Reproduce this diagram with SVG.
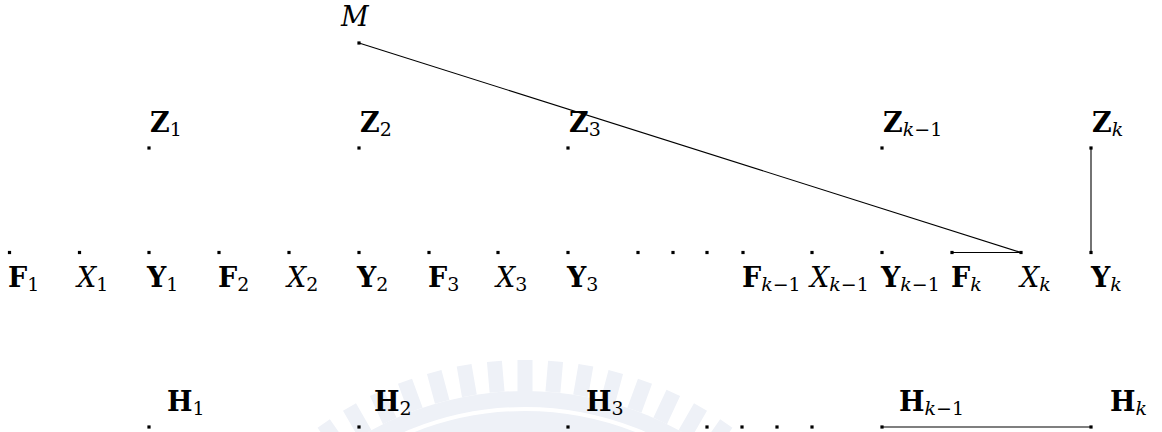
<svg xmlns="http://www.w3.org/2000/svg" width="1162" height="432" viewBox="0 0 1162 432">
<style>
.t{font-family:"DejaVu Serif","Liberation Serif",serif;font-size:27px;fill:#000}
.b{font-weight:bold}
.i{font-style:italic}
.s{font-size:19px;font-weight:normal;font-style:normal}
.si{font-size:19px;font-weight:normal;font-style:italic}
.ln{stroke:#000;stroke-width:1.1;fill:none}
.wm{fill:#eef1f7;stroke:none}
</style>
<defs>
<rect id="pt" x="-1.6" y="-1.6" width="3.2" height="3.2" fill="#000"/>
</defs>
<rect width="1162" height="432" fill="#fff"/>
<g id="watermark">
<circle class="wm" cx="525" cy="711" r="320"/>
<circle cx="525" cy="711" r="302" fill="none" stroke="#fff" stroke-width="4"/>
<path d="M525,392 L525,360 M497.1,392.2 L494.4,361.3 M552.9,392.2 L555.6,361.3 M469.4,395.9 L464.1,365.3 M580.6,395.9 L585.9,365.3 M442.2,401.9 L434.2,372 M607.8,401.9 L615.8,372 M415.6,410.3 L405,381.2 M634.4,410.3 L645,381.2 M389.8,421 L376.7,392.9 M660.2,421 L673.3,392.9 M365,433.9 L349.5,407 M685,433.9 L700.5,407 M341.4,448.9 L323.7,423.5 M708.6,448.9 L726.3,423.5" stroke="#eef1f7" stroke-width="15" fill="none"/>
</g>
<g id="connectors">
<line class="ln" x1="359" y1="43" x2="1021" y2="252.5"/>
<line class="ln" x1="952" y1="252.5" x2="1021" y2="252.5"/>
<line class="ln" x1="1091" y1="148" x2="1091" y2="252.5"/>
<line class="ln" x1="882" y1="427" x2="1091" y2="427"/>
</g>
<g id="M"><use href="#pt" x="359" y="43"/><text class="t i" x="341" y="26">M</text></g>
<g id="Z1"><use href="#pt" x="149" y="148"/><text class="t b" x="150" y="132">Z<tspan class="s" dy="4">1</tspan></text></g>
<g id="Z2"><use href="#pt" x="359" y="148"/><text class="t b" x="360" y="132">Z<tspan class="s" dy="4">2</tspan></text></g>
<g id="Z3"><use href="#pt" x="568" y="148"/><text class="t b" x="569" y="132">Z<tspan class="s" dy="4">3</tspan></text></g>
<g id="Zk-1"><use href="#pt" x="882" y="148"/><text class="t b" x="883" y="132">Z<tspan class="si" dy="4">k</tspan><tspan class="s">−1</tspan></text></g>
<g id="Zk"><use href="#pt" x="1091" y="148"/><text class="t b" x="1092" y="132">Z<tspan class="si" dy="4">k</tspan></text></g>
<g id="F1"><use href="#pt" x="9.5" y="252.5"/><text class="t b" x="8" y="287">F<tspan class="s" dy="4">1</tspan></text></g>
<g id="X1"><use href="#pt" x="79.5" y="252.5"/><text class="t i" x="77" y="287">X<tspan class="s" dy="4">1</tspan></text></g>
<g id="Y1"><use href="#pt" x="149" y="252.5"/><text class="t b" x="147" y="287">Y<tspan class="s" dy="4">1</tspan></text></g>
<g id="F2"><use href="#pt" x="219" y="252.5"/><text class="t b" x="218" y="287">F<tspan class="s" dy="4">2</tspan></text></g>
<g id="X2"><use href="#pt" x="289" y="252.5"/><text class="t i" x="287" y="287">X<tspan class="s" dy="4">2</tspan></text></g>
<g id="Y2"><use href="#pt" x="359" y="252.5"/><text class="t b" x="357" y="287">Y<tspan class="s" dy="4">2</tspan></text></g>
<g id="F3"><use href="#pt" x="429" y="252.5"/><text class="t b" x="428" y="287">F<tspan class="s" dy="4">3</tspan></text></g>
<g id="X3"><use href="#pt" x="498" y="252.5"/><text class="t i" x="496" y="287">X<tspan class="s" dy="4">3</tspan></text></g>
<g id="Y3"><use href="#pt" x="568" y="252.5"/><text class="t b" x="567" y="287">Y<tspan class="s" dy="4">3</tspan></text></g>
<g id="dots-row"><use href="#pt" x="638" y="252.5"/><use href="#pt" x="673" y="252.5"/><use href="#pt" x="707" y="252.5"/></g>
<g id="Fk-1"><use href="#pt" x="743" y="252.5"/><text class="t b" x="742" y="287">F<tspan class="si" dy="4">k</tspan><tspan class="s">−1</tspan></text></g>
<g id="Xk-1"><use href="#pt" x="812" y="252.5"/><text class="t i" x="810" y="287">X<tspan class="si" dy="4">k</tspan><tspan class="s">−1</tspan></text></g>
<g id="Yk-1"><use href="#pt" x="882" y="252.5"/><text class="t b" x="881" y="287">Y<tspan class="si" dy="4">k</tspan><tspan class="s">−1</tspan></text></g>
<g id="Fk"><use href="#pt" x="952" y="252.5"/><text class="t b" x="951" y="287">F<tspan class="si" dy="4">k</tspan></text></g>
<g id="Xk"><use href="#pt" x="1021" y="252.5"/><text class="t i" x="1020" y="287">X<tspan class="si" dy="4">k</tspan></text></g>
<g id="Yk"><use href="#pt" x="1091" y="252.5"/><text class="t b" x="1091" y="287">Y<tspan class="si" dy="4">k</tspan></text></g>
<g id="H1"><use href="#pt" x="149" y="427"/><text class="t b" x="167" y="411">H<tspan class="s" dy="4">1</tspan></text></g>
<g id="H2"><use href="#pt" x="359" y="427"/><text class="t b" x="374" y="411">H<tspan class="s" dy="4">2</tspan></text></g>
<g id="H3"><use href="#pt" x="568" y="427"/><text class="t b" x="586" y="411">H<tspan class="s" dy="4">3</tspan></text></g>
<g id="dots-h"><use href="#pt" x="707" y="427"/><use href="#pt" x="742" y="427"/><use href="#pt" x="777" y="427"/><use href="#pt" x="812" y="427"/></g>
<g id="Hk-1"><use href="#pt" x="882" y="427"/><text class="t b" x="899" y="411">H<tspan class="si" dy="4">k</tspan><tspan class="s">−1</tspan></text></g>
<g id="Hk"><use href="#pt" x="1091" y="427"/><text class="t b" x="1110" y="411">H<tspan class="si" dy="4">k</tspan></text></g>
</svg>
